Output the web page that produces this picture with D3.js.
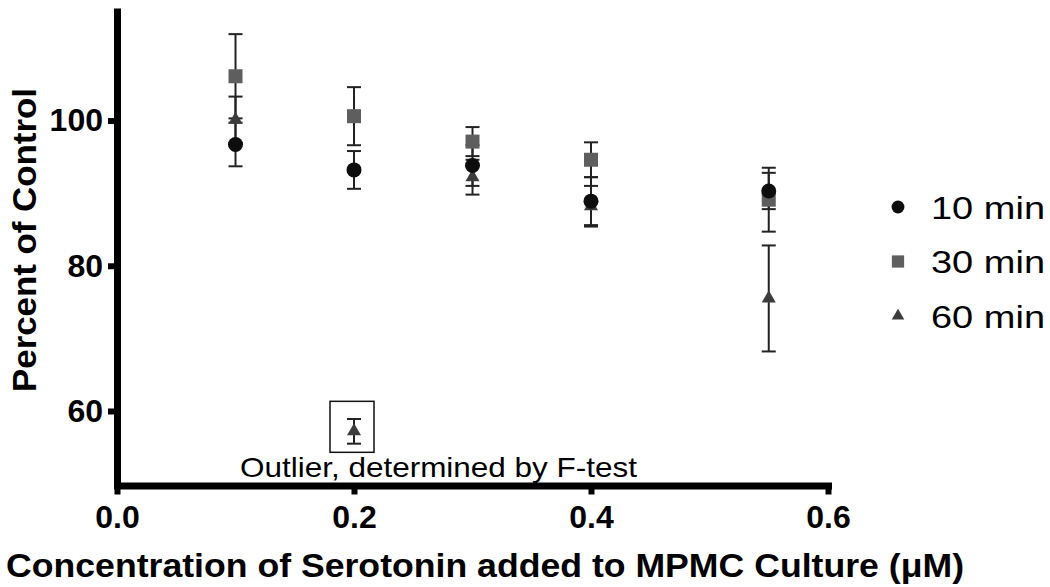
<!DOCTYPE html>
<html>
<head>
<meta charset="utf-8">
<script src="https://cdn.jsdelivr.net/npm/d3@7"></script>
<style>
  body { margin: 0; background: #fff; }
  svg { display: block; }
  text { font-family: "Liberation Sans", Arial, Helvetica, sans-serif; }
</style>
</head>
<body>
<svg id="chart"></svg>
<script>
const width = 1050;
const height = 587;

// values
const concentrations = [0.1, 0.2, 0.3, 0.4, 0.55];
const min10 = [96.7, 93.2, 93.8, 88.9, 90.3];
const err10 = [3.0, 2.6, 2.8, 3.3, 2.5];
const min30 = [106.1, 100.6, 97.1, 94.6, 89.1];
const err30 = [5.8, 4.0, 2.0, 2.4, 4.4];
const min60 = [100.1, null, 92.2, 88.2, 75.5];
const err60 = [3.2, null, 2.4, 2.8, 7.3];
const outlier = { x: 0.2, y: 57.2, err: 1.7 };
const seriesNames = ["10 min", "30 min", "60 min"];
const xTicks = [0, 0.2, 0.4, 0.6];
const yTicks = [60, 80, 100];

const x = d3.scaleLinear().domain([0, 0.6]).range([117, 828]);
const y = d3.scaleLinear().domain([50, 115.5]).range([483.6, 8]);

const svg = d3.select("#chart")
    .attr("width", width)
    .attr("height", height);

const series = [
    { name: seriesNames[0], values: min10, errs: err10, symbol: d3.symbolCircle, size: 177, fill: "#0d0d0d", legendSize: 130 },
    { name: seriesNames[1], values: min30, errs: err30, symbol: d3.symbolSquare, size: 196, fill: "#5e5e5e", legendSize: 150 },
    { name: seriesNames[2], values: min60, errs: err60, symbol: d3.symbolTriangle, size: 85, fill: "#3c3c3c", legendSize: 68 }
];

function points(s) {
    return concentrations
        .map((c, i) => ({ c: c, v: s.values[i], e: s.errs[i] }))
        .filter(d => d.v != null);
}

// axes
const yAxis = svg.append("g")
    .attr("transform", "translate(117,0)")
    .call(d3.axisLeft(y).tickValues(yTicks).tickSize(9).tickPadding(5).tickSizeOuter(0));
yAxis.select(".domain").attr("stroke-width", 7).attr("stroke", "#000");
yAxis.selectAll(".tick line").attr("stroke-width", 6).attr("stroke", "#000");
yAxis.selectAll(".tick text")
    .attr("font-size", 32)
    .attr("font-weight", "bold")
    .attr("fill", "#000")
    .style("font-family", "'Liberation Sans', Arial, sans-serif");

const xAxis = svg.append("g")
    .attr("transform", "translate(0,485.5)")
    .call(d3.axisBottom(x).tickValues(xTicks).tickFormat(d3.format(".1f")).tickSize(9).tickPadding(11).tickSizeOuter(0));
xAxis.select(".domain").attr("stroke-width", 7).attr("stroke", "#000").attr("stroke-linecap", "square");
xAxis.selectAll(".tick line").attr("stroke-width", 6).attr("stroke", "#000");
xAxis.selectAll(".tick text")
    .attr("font-size", 32)
    .attr("font-weight", "bold")
    .attr("fill", "#000")
    .style("font-family", "'Liberation Sans', Arial, sans-serif");

// axis titles
svg.append("text")
    .attr("transform", "translate(36,240) rotate(-90)")
    .attr("text-anchor", "middle")
    .attr("font-size", 34)
    .attr("font-weight", "bold")
    .attr("textLength", 304)
    .attr("lengthAdjust", "spacingAndGlyphs")
    .text("Percent of Control");

svg.append("text")
    .attr("x", 6)
    .attr("y", 577)
    .attr("font-size", 34)
    .attr("font-weight", "bold")
    .attr("textLength", 958)
    .attr("lengthAdjust", "spacingAndGlyphs")
    .text("Concentration of Serotonin added to MPMC Culture (\u03BCM)");

// error bars
const bars = svg.append("g")
    .attr("stroke", "#222")
    .attr("stroke-width", 2)
    .attr("fill", "none");

series.forEach(s => {
    const g = bars.append("g");
    const pts = points(s);
    g.selectAll(".stem").data(pts).enter()
        .append("line")
        .attr("x1", d => x(d.c)).attr("x2", d => x(d.c))
        .attr("y1", d => y(d.v - d.e)).attr("y2", d => y(d.v + d.e));
    g.selectAll(".capHi").data(pts).enter()
        .append("line")
        .attr("x1", d => x(d.c) - 7).attr("x2", d => x(d.c) + 7)
        .attr("y1", d => y(d.v + d.e)).attr("y2", d => y(d.v + d.e));
    g.selectAll(".capLo").data(pts).enter()
        .append("line")
        .attr("x1", d => x(d.c) - 7).attr("x2", d => x(d.c) + 7)
        .attr("y1", d => y(d.v - d.e)).attr("y2", d => y(d.v - d.e));
});

// markers, circles drawn last so they sit on top
[series[2], series[1], series[0]].forEach(s => {
    svg.append("g").selectAll("path").data(points(s)).enter()
        .append("path")
        .attr("d", d3.symbol().type(s.symbol).size(s.size))
        .attr("transform", d => "translate(" + x(d.c) + "," + y(d.v) + ")")
        .attr("fill", s.fill);
});

// outlier (60 min at 0.2) with its box and note
const outG = svg.append("g");
outG.append("rect")
    .attr("x", x(outlier.x) - 24)
    .attr("y", y(outlier.y) - 30)
    .attr("width", 44)
    .attr("height", 51)
    .attr("fill", "none")
    .attr("stroke", "#111")
    .attr("stroke-width", 1.5);
outG.append("line")
    .attr("x1", x(outlier.x)).attr("x2", x(outlier.x))
    .attr("y1", y(outlier.y - outlier.err)).attr("y2", y(outlier.y + outlier.err))
    .attr("stroke", "#222").attr("stroke-width", 2);
[outlier.y - outlier.err, outlier.y + outlier.err].forEach(v => {
    outG.append("line")
        .attr("x1", x(outlier.x) - 7).attr("x2", x(outlier.x) + 7)
        .attr("y1", y(v)).attr("y2", y(v))
        .attr("stroke", "#222").attr("stroke-width", 2);
});
outG.append("path")
    .attr("d", d3.symbol().type(d3.symbolTriangle).size(85))
    .attr("transform", "translate(" + x(outlier.x) + "," + y(outlier.y) + ")")
    .attr("fill", series[2].fill);
outG.append("text")
    .attr("x", 240)
    .attr("y", 477)
    .attr("font-size", 28)
    .attr("textLength", 397)
    .attr("lengthAdjust", "spacingAndGlyphs")
    .text("Outlier, determined by F-test");

// legend
const legend = svg.append("g")
    .attr("transform", "translate(898,207)");

legend.selectAll("path").data(series).enter()
    .append("path")
    .attr("d", d => d3.symbol().type(d.symbol).size(d.legendSize)())
    .attr("transform", (d, i) => "translate(0," + (i * 54.5) + ")")
    .attr("fill", d => d.fill);

legend.selectAll("text").data(series).enter()
    .append("text")
    .attr("x", 33)
    .attr("y", (d, i) => 11.5 + i * 54.5)
    .attr("font-size", 32)
    .attr("textLength", 114)
    .attr("lengthAdjust", "spacingAndGlyphs")
    .attr("fill", "#000")
    .text(d => d.name);
</script>
</body>
</html>
